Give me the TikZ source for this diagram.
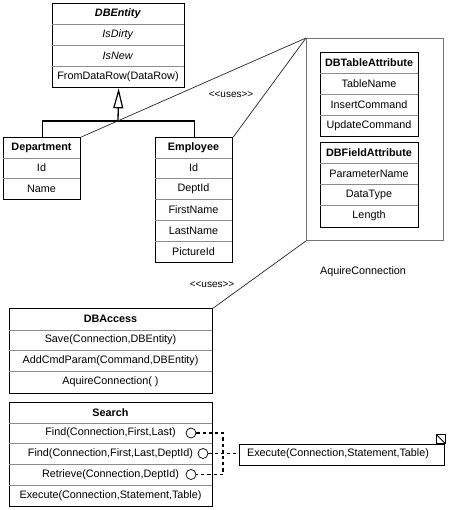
\documentclass[tikz,border=0pt]{standalone}
\usepackage{fontspec}
\setmainfont{Liberation Sans}
\usetikzlibrary{arrows.meta}
\begin{document}
\begin{tikzpicture}[x=1pt,y=-1pt,
  font=\fontsize{10.8}{12}\selectfont,
  classbox/.style={draw=black, line width=1.3pt, rectangle, inner sep=0pt, anchor=north west},
  pkgbox/.style={draw=black!55, line width=0.9pt, rectangle, inner sep=0pt, anchor=north west},
  rowtext/.style={inner sep=0pt, anchor=center},
  divline/.style={draw=black!45, line width=0.6pt},
  conn/.style={draw=black, line width=1.3pt},
  useline/.style={draw=black!85, line width=0.7pt},
  dashconn/.style={draw=black, line width=1.2pt, dash pattern=on 3.2pt off 3pt},
  port/.style={circle, draw=black, line width=0.7pt, fill=white, inner sep=0pt, minimum size=10pt},
  lbl/.style={inner sep=0pt, font=\fontsize{10}{11}\selectfont}
]
\useasboundingbox (0,0) rectangle (450,510);

% ---------- DBEntity ----------
\node[classbox, minimum width=132pt, minimum height=84pt] (dbe) at (52,3) {};
\draw[divline] (52,24) -- (184,24) (52,45) -- (184,45) (52,66) -- (184,66);
\node[rowtext] (dbe1) at (118,13.5) {\textbf{\textit{DBEntity}}};
\node[rowtext] (dbe2) at (118,34.5) {\textit{IsDirty}};
\node[rowtext] (dbe3) at (118,55.5) {\textit{IsNew}};
\node[rowtext] (dbe4) at (118,76.5) {FromDataRow(DataRow)};

% ---------- Department ----------
\node[classbox, minimum width=77pt, minimum height=62pt] (dept) at (3,137) {};
\draw[divline] (3,158) -- (80,158) (3,178) -- (80,178);
\node[rowtext] (dept1) at (41.5,147.5) {\textbf{Department}};
\node[rowtext] (dept2) at (41.5,168) {Id};
\node[rowtext] (dept3) at (41.5,188.5) {Name};

% ---------- Employee ----------
\node[classbox, minimum width=77pt, minimum height=125pt] (emp) at (155,137) {};
\draw[divline] (155,158) -- (232,158) (155,178) -- (232,178) (155,199) -- (232,199)
               (155,220) -- (232,220) (155,241) -- (232,241);
\node[rowtext] (emp1) at (193.5,147.5) {\textbf{Employee}};
\node[rowtext] (emp2) at (193.5,168) {Id};
\node[rowtext] (emp3) at (193.5,188.5) {DeptId};
\node[rowtext] (emp4) at (193.5,209.5) {FirstName};
\node[rowtext] (emp5) at (193.5,230.5) {LastName};
\node[rowtext] (emp6) at (193.5,251.5) {PictureId};

% ---------- inheritance ----------
\coordinate (j) at (118,121);
\draw[conn] (dept.north) -- (dept.north |- j) -- (emp.north |- j) -- (emp.north);
\draw[conn, -{Triangle[open, length=20pt, width=10pt, line width=1.2pt]}] (j) -- (dbe.south);

% ---------- attributes package ----------
\node[pkgbox, minimum width=137pt, minimum height=202pt] (pkg) at (306,38) {};
\node[classbox, minimum width=98pt, minimum height=84pt] (dta) at (320,52) {};
\draw[divline] (320,73) -- (418,73) (320,94) -- (418,94) (320,115) -- (418,115);
\node[rowtext] (dta1) at (369,62.5) {\textbf{DBTableAttribute}};
\node[rowtext] (dta2) at (369,83.5) {TableName};
\node[rowtext] (dta3) at (369,104.5) {InsertCommand};
\node[rowtext] (dta4) at (369,125.5) {UpdateCommand};

\node[classbox, minimum width=98pt, minimum height=85pt] (dfa) at (320,142) {};
\draw[divline] (320,163) -- (418,163) (320,184) -- (418,184) (320,205) -- (418,205);
\node[rowtext] (dfa1) at (369,152.5) {\textbf{DBFieldAttribute}};
\node[rowtext] (dfa2) at (369,173.5) {ParameterName};
\node[rowtext] (dfa3) at (369,194.5) {DataType};
\node[rowtext] (dfa4) at (369,216) {Length};

\node[rowtext] (aq) at (363,272) {AquireConnection};

% ---------- DBAccess ----------
\node[classbox, minimum width=203pt, minimum height=85pt] (dba) at (9,308) {};
\draw[divline] (9,330) -- (212,330) (9,350) -- (212,350) (9,371) -- (212,371);
\node[rowtext] (dba1) at (110.5,319) {\textbf{DBAccess}};
\node[rowtext] (dba2) at (110.5,340) {Save(Connection,DBEntity)};
\node[rowtext] (dba3) at (110.5,360.5) {AddCmdParam(Command,DBEntity)};
\node[rowtext] (dba4) at (110.5,382) {AquireConnection( )};

% ---------- uses connectors ----------
\draw[useline] (dept.north east) -- (pkg.north west);
\draw[useline] (emp.north east) -- (pkg.north west);
\draw[useline] (pkg.south west) -- (dba.north east);
\node[lbl] (u1) at (231,95) {<{}<uses>{}>};
\node[lbl] (u2) at (212,285) {<{}<uses>{}>};

% ---------- Search ----------
\node[classbox, minimum width=203pt, minimum height=104pt] (srch) at (9,402) {};
\draw[divline] (9,423) -- (212,423) (9,443) -- (212,443) (9,464) -- (212,464) (9,485) -- (212,485);
\node[rowtext] (s1) at (110.5,412.5) {\textbf{Search}};
\node[rowtext] (s2) at (110.5,433) {Find(Connection,First,Last)};
\node[rowtext] (s3) at (110.5,453.5) {Find(Connection,First,Last,DeptId)};
\node[rowtext] (s4) at (110.5,474.5) {Retrieve(Connection,DeptId)};
\node[rowtext] (s5) at (110.5,495.5) {Execute(Connection,Statement,Table)};

\node[port] (c1) at (191,433) {};
\node[port] (c2) at (203,453.5) {};
\node[port] (c3) at (191,474.5) {};

% ---------- Execute ----------
\node[classbox, minimum width=205pt, minimum height=21pt] (exe) at (239,443.5) {};
\node[rowtext] (exet) at (338,454) {Execute(Connection,Statement,Table)};
\draw[black, line width=0.8pt] ([xshift=-9pt]exe.north east) rectangle ([yshift=9pt]exe.north east);
\draw[black, line width=0.8pt] ([xshift=-9pt, yshift=9pt]exe.north east) -- (exe.north east);

\coordinate (v) at (223,453.5);
\draw[dashconn] (c1.east) -- (c1.east -| v) -- (c3.east -| v) -- (c3.east);
\draw[dashconn] (c2.east) -- (c2.east -| exe.west);
\end{tikzpicture}
\end{document}
